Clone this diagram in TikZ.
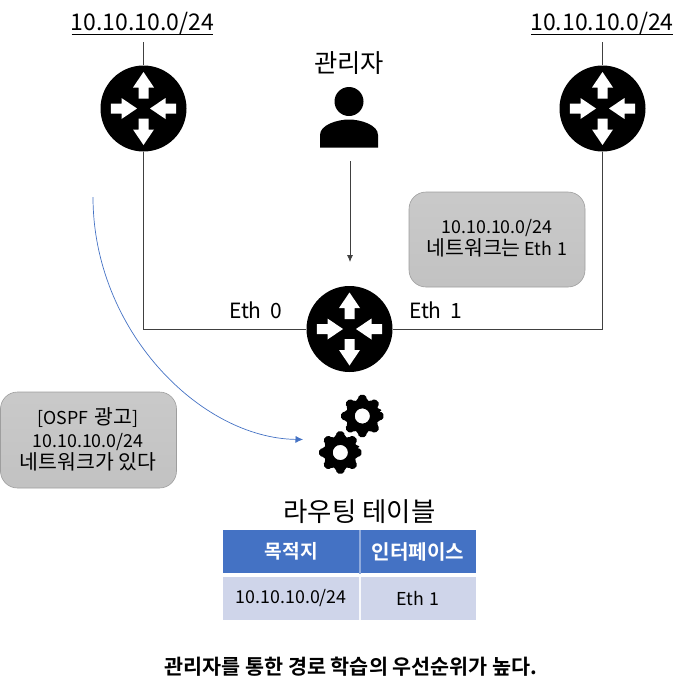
\documentclass[tikz,border=0pt]{standalone}
\usepackage{fontspec}
\setmainfont{Noto Sans CJK KR}
\newfontfamily\ko[Scale=1.15]{Noto Sans CJK KR}
\newfontfamily\boldko[Scale=1.15]{Noto Sans CJK KR Bold}
\usetikzlibrary{arrows.meta,shadings}
\definecolor{hdr}{HTML}{4472C4}
\definecolor{hdrdiv}{HTML}{8FAADC}
\definecolor{rowc}{HTML}{CFD5EA}
\definecolor{curvec}{HTML}{4472C4}
\definecolor{linec}{HTML}{404040}
\tikzset{
  routernode/.style={circle,fill=black,minimum size=86pt,inner sep=0pt},
  wire/.style={linec,line width=0.9pt},
  lbl/.style={inner sep=0pt,align=center,text=black},
  graybox/.style={draw=black!38,line width=0.6pt,rounded corners=17pt,top color=black!21,bottom color=black!24},
  cell/.style={inner sep=0pt,minimum height=43.5pt,text=black,font=\fontsize{17.8}{21}\selectfont},
  router/.pic={
    \foreach \r in {0,180}{
      \fill[white,rotate=\r] (-5,-10) -- (-5,-21) -- (-10.5,-21) -- (0,-36.5) -- (10.5,-21) -- (5,-21) -- (5,-10) -- cycle;
    }
    \foreach \r in {0,180}{
      \fill[white,rotate=\r] (-32.7,-5) -- (-22,-5) -- (-22,-10.5) -- (-6.5,0) -- (-22,10.5) -- (-22,5) -- (-32.7,5) -- cycle;
    }
  },
  gearpic/.pic={
    \fill[black,even odd rule,rounded corners=2pt]
      (-16:21)
      \foreach \a in {0,45,...,315}{
        -- ({\a-15}:16.5) -- ({\a-10}:21.5) -- ({\a+10}:21.5) -- ({\a+15}:16.5)
      } -- cycle
      (0,0) circle (7.6);
  }
}
\begin{document}
\begin{tikzpicture}[x=1pt,y=-1pt]
\useasboundingbox (0,0) rectangle (688,691);
% routers
\node[routernode] (r1) at (143.5,108.5) {};
\node[routernode] (r2) at (602.5,108.5) {};
\node[routernode] (r3) at (349.5,329) {};
\pic at (r1) {router};
\pic at (r2) {router};
\pic at (r3) {router};
% network labels
\node[lbl,font=\fontsize{23}{27}\selectfont] (n1) at (142.5,23) {10.10.10.0/24};
\node[lbl,font=\fontsize{23}{27}\selectfont] (n2) at (602,23) {10.10.10.0/24};
\coordinate (u1l) at (71.5,34); \coordinate (u1r) at (213,34);
\coordinate (u2l) at (531,34); \coordinate (u2r) at (673,34);
\draw[black,line width=1pt] (u1l) -- (u1r);
\draw[black,line width=1pt] (u2l) -- (u2r);
\coordinate (t1) at (143.5,42); \coordinate (t2) at (602.5,42);
\draw[wire] (t1) -- (r1.north);
\draw[wire] (t2) -- (r2.north);
\draw[wire] (r1.south) |- (r3.west);
\draw[wire] (r2.south) |- (r3.east);
% admin
\node[lbl,font=\fontsize{22}{26}\selectfont] (adm) at (349,63) {\ko 관리자};
\fill[black] (349,101.5) circle (14.5);
\fill[black] (320,147.5) -- (320,135) .. controls (320,125) and (337,119.5) .. (349,119.5) .. controls (361,119.5) and (378,125) .. (378,135) -- (378,147.5) -- cycle;
\coordinate (pb) at (350,161);
\coordinate (rt) at (350,262);
\draw[wire,line width=0.8pt,-{Latex[length=7pt,width=6pt]}] (pb) -- (rt);
% Eth labels
\node[lbl,font=\fontsize{21}{25}\selectfont] (e0) at (255.5,310) {Eth\hspace{0.4em}0};
\node[lbl,font=\fontsize{21}{25}\selectfont] (e1) at (435.5,310) {Eth\hspace{0.4em}1};
% gray boxes
\node[graybox,minimum width=176pt,minimum height=95pt,inner sep=0pt] (b1) at (497,239.5) {};
\node[lbl,font=\fontsize{17.8}{22}\selectfont] (b1t) at (497,238.5) {10.10.10.0/24\\{\ko 네트워크는} Eth\hspace{0.3em}1};
\node[graybox,minimum width=176pt,minimum height=96pt,inner sep=0pt] (b2) at (88.5,440) {};
\node[lbl,font=\fontsize{17.8}{22.5}\selectfont] (b2t) at (88,439.5) {[OSPF\hspace{0.35em}{\ko 광고}]\\10.10.10.0/24\\{\ko 네트워크가 있다}};
% gears
\pic at (362.3,416) {gearpic};
\pic at (340.3,452.5) {gearpic};
% curve
\coordinate (c1) at (93,197);
\coordinate (c2) at (303,439.5);
\draw[curvec,line width=0.7pt,-{Latex[length=7.5pt,width=7pt]}] (c1) .. controls (93,330) and (200,438) .. (c2);
% table
\node[lbl,font=\fontsize{23}{27}\selectfont] (tt) at (359.5,512) {\ko 라우팅 테이블};
\node[cell,fill=hdr,minimum width=136.5pt,text=white,font=\fontsize{16.7}{19}\selectfont] (h1) at (291.25,551.7) {\boldko 목적지};
\node[cell,fill=hdr,minimum width=116pt,text=white,font=\fontsize{17.5}{19}\selectfont] (h2) at (418,551.7) {\boldko 인터페이스};
\node[cell,fill=rowc,minimum width=136.5pt] (d1) at (291.25,598.5) {10.10.10.0/24};
\node[cell,fill=rowc,minimum width=116pt] (d2) at (418,598.5) {Eth\hspace{0.3em}1};
\coordinate (dv1) at (360,530); \coordinate (dv2) at (360,573.5);
\coordinate (dv3) at (360,577); \coordinate (dv4) at (360,620);
\draw[hdrdiv,line width=1.5pt] (dv1) -- (dv2);
\draw[white!85!rowc,line width=1.5pt] (dv3) -- (dv4);
% caption
\node[lbl,font=\fontsize{18}{22}\selectfont] (cap) at (351,667) {\boldko 관리자를 통한 경로 학습의 우선순위가 높다.};
\end{tikzpicture}
\end{document}
